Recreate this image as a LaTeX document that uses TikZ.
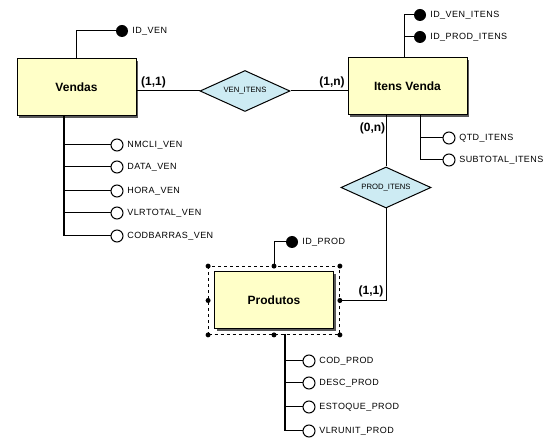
\documentclass[tikz,border=0pt]{standalone}
\usepackage{fontspec}
\setmainfont{Liberation Sans}
\newfontfamily\attrfont{Liberation Sans}[LetterSpace=5]
\usetikzlibrary{shapes.geometric,shadows,fit}
\definecolor{entfill}{RGB}{255,255,200}
\definecolor{relfill}{RGB}{205,235,243}
\begin{document}
\begin{tikzpicture}[x=1pt,y=-1pt,line width=1pt,
  entity/.style={draw,fill=entfill,minimum width=119pt,minimum height=57pt,
    font=\fontsize{12}{14}\selectfont\bfseries,
    drop shadow={shadow xshift=2pt,shadow yshift=-2pt,fill=black!65,opacity=1}},
  rel/.style={draw,diamond,fill=relfill,aspect=2.2,inner sep=0pt,
    minimum width=90pt,minimum height=41pt,font=\fontsize{7.7}{9}\selectfont},
  card/.style={font=\fontsize{12}{14}\selectfont\bfseries},
  keyattr/.style={circle,fill,inner sep=0pt,minimum size=12pt,label distance=3pt},
  attr/.style={circle,draw,fill=white,inner sep=0pt,minimum size=12pt,label distance=3pt},
  handle/.style={circle,fill,inner sep=0pt,minimum size=5pt},
  every label/.style={font=\attrfont\fontsize{9}{11}\selectfont}]
  \useasboundingbox (0,0) rectangle (549,443);

  % Entidades
  \node[entity] (vendas) at (76.5,87.5) {Vendas};
  \node[entity] (itens) at (407.5,86.5) {Itens Venda};
  \node[entity] (produtos) at (274,300.5) {Produtos};
  \node[draw,dashed,line width=0.8pt,fit=(produtos),inner xsep=5.5pt,inner ysep=5pt] (prodsel) {};
  \foreach \a [count=\i] in {north west,north,north east,east,south east,south,south west,west}
    \node[handle] (h\i) at (prodsel.\a) {};

  % Relacionamentos
  \node[rel] (venitens) at (245,91) {VEN\_ITENS};
  \node[rel] (proditens) at (386,187.5) {PROD\_ITENS};
  \draw (venitens.west) -- (venitens.west -| vendas.east);
  \draw (venitens.east) -- (venitens.east -| itens.west);
  \draw (proditens.north) -- (proditens.north |- itens.south);
  \draw (proditens.south) |- (prodsel.east);

  % Cardinalidades
  \node[card] (card1) at (153.5,82) {(1,1)};
  \node[card] (card2) at (332,82) {(1,n)};
  \node[card] (card3) at (372.5,128) {(0,n)};
  \node[card] (card4) at (371,291) {(1,1)};

  % Chaves
  \node[keyattr,label=right:ID\_VEN] (idven) at (122,31) {};
  \draw (vendas.north) |- (idven);
  \coordinate (ktrunk) at (404,58);
  \node[keyattr,label=right:ID\_VEN\_ITENS] (idvenitens) at (420,15) {};
  \node[keyattr,label=right:ID\_PROD\_ITENS] (idproditens) at (420,37) {};
  \draw (ktrunk) |- (idvenitens);
  \draw (ktrunk) |- (idproditens);
  \node[keyattr,label=right:ID\_PROD] (idprod) at (292,242) {};
  \draw (prodsel.north) |- (idprod);

  % Atributos de Vendas
  \coordinate (vtrunk) at (64,116);
  \node[attr,label=right:NMCLI\_VEN] (nmcli) at (117,145) {};
  \node[attr,label=right:DATA\_VEN] (data) at (117,167) {};
  \node[attr,label=right:HORA\_VEN] (hora) at (117,191) {};
  \node[attr,label=right:VLRTOTAL\_VEN] (vlrtotal) at (117,213) {};
  \node[attr,label=right:CODBARRAS\_VEN] (codbarras) at (117,236) {};
  \draw (vtrunk |- nmcli) -- (nmcli);
  \draw (vtrunk |- data) -- (data);
  \draw (vtrunk |- hora) -- (hora);
  \draw (vtrunk |- vlrtotal) -- (vlrtotal);
  \draw[line width=2pt] (vtrunk) -- (vtrunk |- codbarras);
  \draw (vtrunk |- codbarras) -- (codbarras);

  % Atributos de Itens Venda
  \coordinate (itrunk) at (420,115);
  \node[attr,label=right:QTD\_ITENS] (qtd) at (449,138) {};
  \node[attr,label=right:SUBTOTAL\_ITENS] (subtotal) at (449,160) {};
  \draw (itrunk) |- (qtd);
  \draw (itrunk) |- (subtotal);

  % Atributos de Produtos
  \coordinate (ptrunk) at (285,334);
  \node[attr,label=right:COD\_PROD] (cod) at (309,361) {};
  \node[attr,label=right:DESC\_PROD] (desc) at (309,383) {};
  \node[attr,label=right:ESTOQUE\_PROD] (estoque) at (309,407) {};
  \node[attr,label=right:VLRUNIT\_PROD] (vlrunit) at (309,431) {};
  \draw (ptrunk |- cod) -- (cod);
  \draw (ptrunk |- desc) -- (desc);
  \draw (ptrunk |- estoque) -- (estoque);
  \draw[line width=2pt] (ptrunk) -- (ptrunk |- vlrunit);
  \draw (ptrunk |- vlrunit) -- (vlrunit);
\end{tikzpicture}
\end{document}
